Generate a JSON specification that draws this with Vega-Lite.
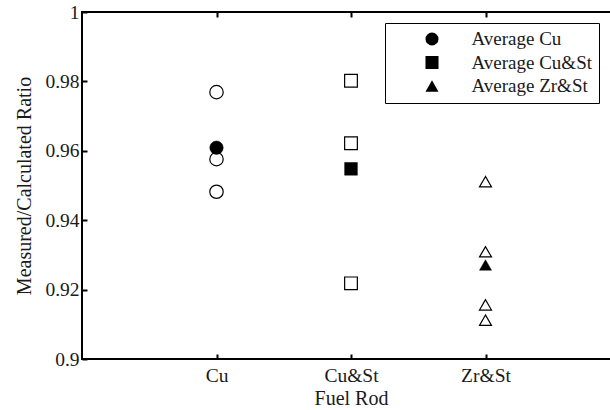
{
  "$schema": "https://vega.github.io/schema/vega-lite/v6.json",
  "width": 538,
  "height": 347,
  "autosize": {"type": "none"},
  "padding": {"left": 82, "top": 12, "right": 0, "bottom": 51},
  "background": "white",
  "config": {
    "view": {"stroke": "black", "strokeWidth": 2},
    "font": "Liberation Serif",
    "axis": {
      "labelFont": "Liberation Serif",
      "titleFont": "Liberation Serif",
      "labelFontSize": 19.5,
      "titleFontSize": 20,
      "labelColor": "#1a1a1a",
      "titleColor": "#1a1a1a",
      "titleFontWeight": "normal",
      "grid": false,
      "domain": false,
      "tickColor": "black",
      "tickWidth": 2,
      "tickSize": -5
    },
    "legend": {
      "symbolFillColor": "black",
      "symbolStrokeColor": "black",
      "symbolStrokeWidth": 0
    }
  },
  "datasets": {
    "samples": [
      {"rod": "Cu", "ratio": 0.9769},
      {"rod": "Cu", "ratio": 0.9576},
      {"rod": "Cu", "ratio": 0.9482},
      {"rod": "Cu&St", "ratio": 0.9802},
      {"rod": "Cu&St", "ratio": 0.9622},
      {"rod": "Cu&St", "ratio": 0.9218},
      {"rod": "Zr&St", "ratio": 0.9511},
      {"rod": "Zr&St", "ratio": 0.9309},
      {"rod": "Zr&St", "ratio": 0.9156},
      {"rod": "Zr&St", "ratio": 0.9112}
    ],
    "averages": [
      {"rod": "Cu", "pos": 1, "ratio": 0.9609},
      {"rod": "Cu&St", "pos": 2, "ratio": 0.9548},
      {"rod": "Zr&St", "pos": 3, "ratio": 0.9271}
    ],
    "positions": [
      {"rod": "Cu", "pos": 1},
      {"rod": "Cu&St", "pos": 2},
      {"rod": "Zr&St", "pos": 3}
    ]
  },
  "resolve": {"axis": {"x": "independent"}},
  "layer": [
    {
      "data": {"name": "averages"},
      "mark": {"type": "point", "filled": true, "fill": "black", "stroke": "black", "strokeWidth": 0.5, "opacity": 1},
      "encoding": {
        "x": {
          "field": "pos", "type": "quantitative",
          "scale": {"domain": [0, 4], "nice": false, "zero": false},
          "axis": {
            "orient": "bottom", "values": [1, 2, 3],
            "labelExpr": "datum.value == 1 ? 'Cu' : datum.value == 2 ? 'Cu&St' : 'Zr&St'",
            "title": "Fuel Rod", "labelPadding": 12, "titlePadding": 4
          }
        },
        "y": {
          "field": "ratio", "type": "quantitative",
          "scale": {"domain": [0.9, 1], "nice": false, "zero": false},
          "axis": {
            "values": [0.9, 0.92, 0.94, 0.96, 0.98, 1],
            "format": "~g",
            "title": "Measured/Calculated Ratio",
            "labelPadding": 8, "titlePadding": 10
          }
        },
        "shape": {
          "field": "rod", "type": "nominal",
          "scale": {"domain": ["Cu", "Cu&St", "Zr&St"], "range": ["circle", "square", "triangle-up"]},
          "legend": {
            "title": null,
            "orient": "none",
            "legendX": 303,
            "legendY": 11,
            "direction": "vertical",
            "strokeColor": "black",
            "fillColor": "white",
            "padding": 6.5,
            "rowPadding": 3.5,
            "symbolOffset": 31,
            "labelOffset": 30,
            "symbolSize": 170,
            "labelFont": "Liberation Serif",
            "labelFontSize": 19,
            "labelColor": "#1a1a1a",
            "labelLimit": 300,
            "labelExpr": "'Average ' + datum.label"
          }
        },
        "size": {
          "field": "pos", "type": "ordinal",
          "scale": {"domain": [1, 2, 3], "range": [180, 144, 256]},
          "legend": null
        }
      }
    },
    {
      "data": {"name": "samples"},
      "transform": [{"lookup": "rod", "from": {"data": {"name": "positions"}, "key": "rod", "fields": ["pos"]}}],
      "mark": {"type": "point", "filled": false, "fill": "transparent", "stroke": "black", "strokeWidth": 1.2, "opacity": 1},
      "encoding": {
        "x": {
          "field": "pos", "type": "quantitative",
          "axis": {"orient": "top", "values": [1, 2, 3], "labels": false, "title": null}
        },
        "y": {"field": "ratio", "type": "quantitative"},
        "shape": {"field": "rod", "type": "nominal"},
        "size": {"field": "pos", "type": "ordinal", "legend": null}
      }
    }
  ]
}
